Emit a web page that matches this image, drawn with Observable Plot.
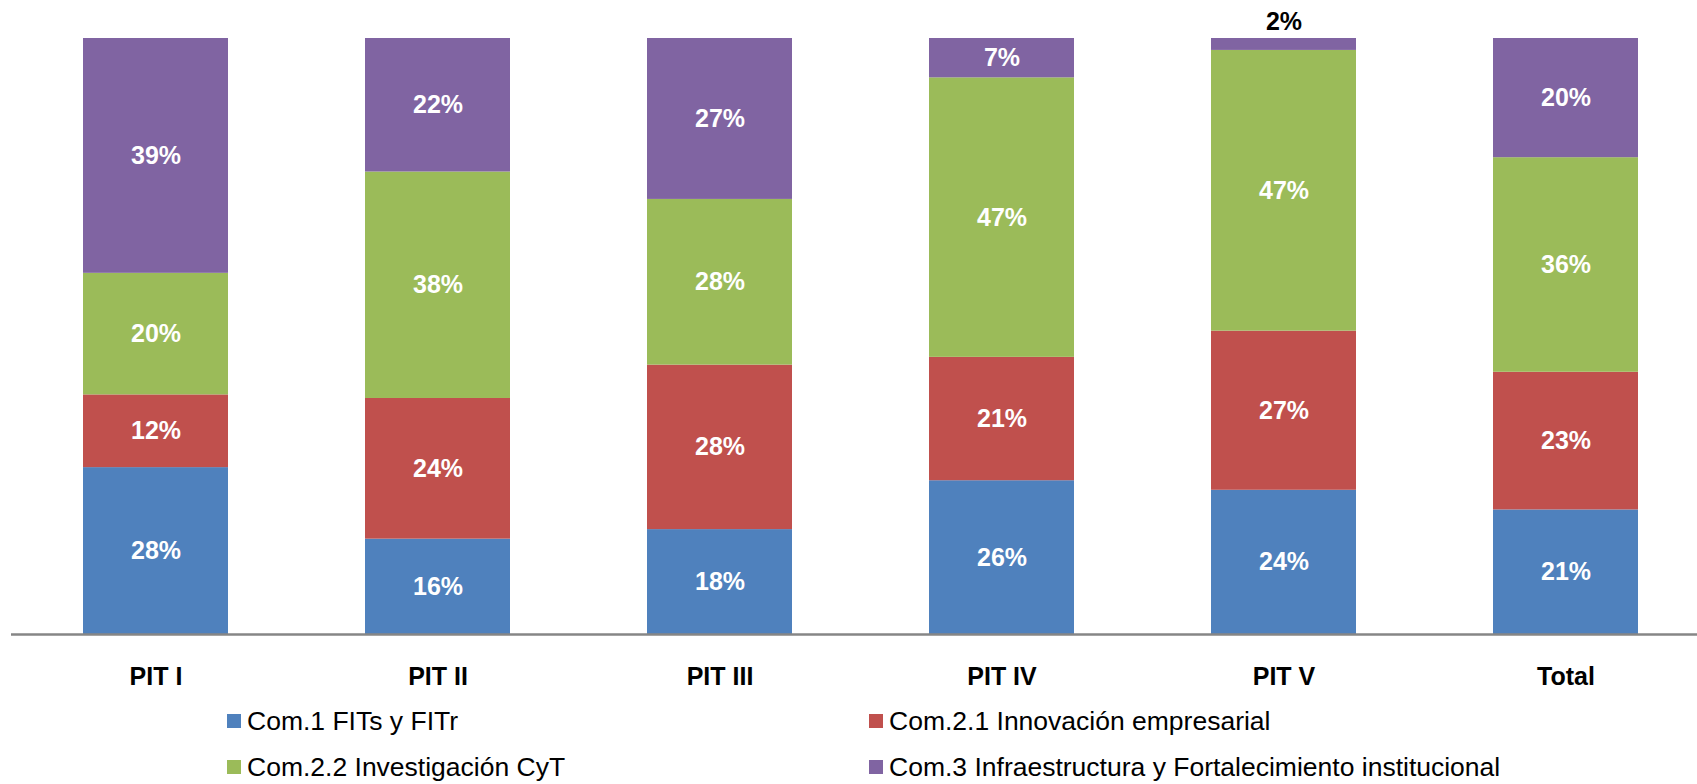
<!DOCTYPE html>
<html><head><meta charset="utf-8">
<script src="https://cdn.jsdelivr.net/npm/d3@7"></script>
<script src="https://cdn.jsdelivr.net/npm/@observablehq/plot@0.6"></script>
<style>
body{margin:0;background:#fff;font-family:"Liberation Sans",Arial,sans-serif;}
#legend{position:relative;height:84px;width:1697px;}
.item{position:absolute;display:flex;align-items:center;font-size:26.5px;line-height:30px;height:30px;color:#000;white-space:nowrap}
.sw{width:14px;height:14px;margin-right:6px;flex:none}
</style></head><body>
<div id="chart"></div><div id="legend"></div>
<script>
const categories = ["PIT I","PIT II","PIT III","PIT IV","PIT V","Total"];
const series = ["Com.1 FITs y FITr","Com.2.1 Innovación empresarial","Com.2.2 Investigación CyT","Com.3 Infraestructura y Fortalecimiento institucional"];
const colors = ["#4F81BD","#C0504D","#9BBB59","#8064A2"];
const com1  = [28.0, 16.0, 17.6, 25.8, 24.2, 20.9];
const com21 = [12.2, 23.6, 27.6, 20.7, 26.7, 23.1];
const com22 = [20.4, 38.0, 27.8, 46.9, 47.1, 36.0];
const com3  = [39.4, 22.4, 27.0, 6.6, 2.0, 20.0];
const seriesValues = [com1, com21, com22, com3];

const data = [];
series.forEach((s, si) => categories.forEach((c, ci) => data.push({cat: c, series: s, value: seriesValues[si][ci]})));
const fmt = v => Math.round(v) + "%";
const small = 5;

const chart = Plot.plot({
  width: 1697,
  height: 700,
  marginTop: 38,
  marginBottom: 66,
  marginLeft: 11,
  marginRight: 0,
  style: {fontFamily: "'Liberation Sans', Arial, sans-serif", background: "#fff"},
  x: {domain: categories, range: [12, 1708], paddingInner: 0.487, paddingOuter: 0.2435},
  y: {domain: [0, 100], axis: null},
  color: {domain: series, range: colors},
  marks: [
    Plot.barY(data, Plot.stackY({x: "cat", y: "value", z: "series", fill: "series", order: series})),
    Plot.text(data, Plot.stackY({x: "cat", y: "value", z: "series", order: series,
      text: d => d.value >= small ? fmt(d.value) : "", fill: "white", fontWeight: "bold", fontSize: 25})),
    Plot.text(data, Plot.stackY2({x: "cat", y: "value", z: "series", order: series,
      text: d => d.value < small ? fmt(d.value) : "", fill: "black", fontWeight: "bold", fontSize: 25, dy: -16.5})),
    Plot.ruleY([0], {stroke: "#868686", strokeWidth: 2.5}),
    Plot.axisX({tickSize: 0, tickPadding: 33, fontSize: 25, fontWeight: "bold", fill: "black", label: null})
  ]
});
document.getElementById("chart").appendChild(chart);

const legend = document.getElementById("legend");
const pos = [[227, 21], [869, 21], [227, 67], [869, 67]];
series.forEach((s, i) => {
  const it = document.createElement("div");
  it.className = "item";
  it.style.left = pos[i][0] + "px";
  it.style.top = (pos[i][1] - 15) + "px";
  const sw = document.createElement("span");
  sw.className = "sw";
  sw.style.background = colors[i];
  const tx = document.createElement("span");
  tx.textContent = s;
  it.appendChild(sw); it.appendChild(tx);
  legend.appendChild(it);
});
</script>
</body></html>
